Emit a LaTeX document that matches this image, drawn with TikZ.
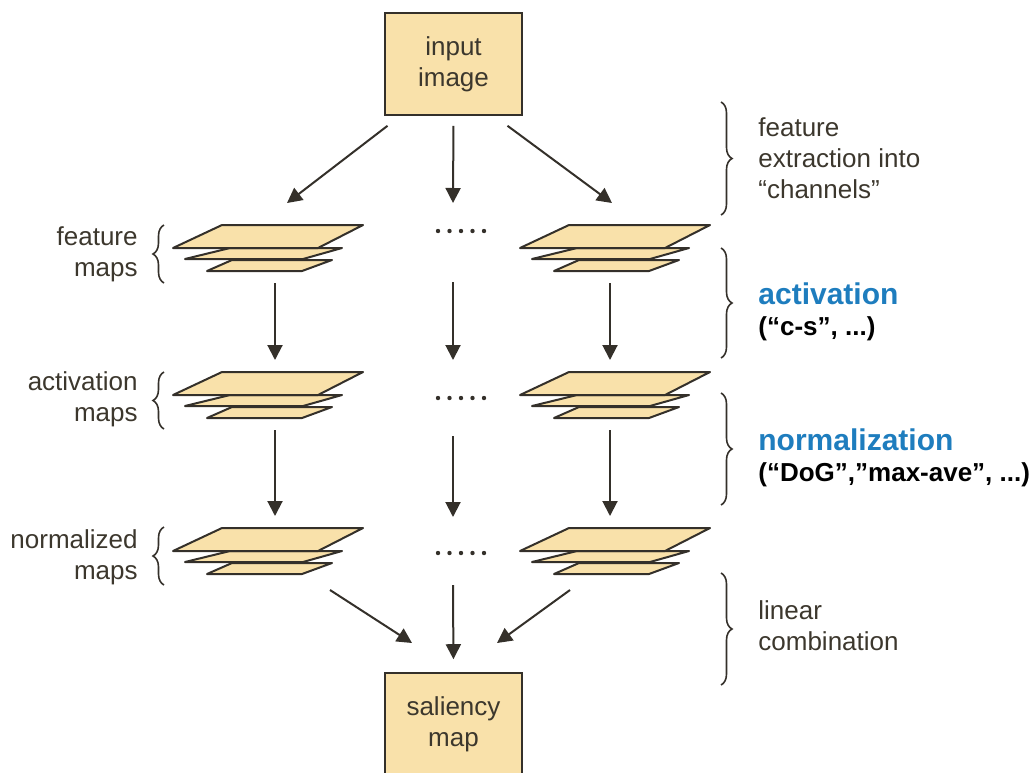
\documentclass[tikz,border=0pt]{standalone}
\usepackage{fontspec}
\setmainfont{Liberation Sans}
\usetikzlibrary{arrows.meta, positioning, decorations.pathreplacing}
\definecolor{tan}{RGB}{249,225,170}
\definecolor{edge}{RGB}{52,48,42}
\definecolor{ink}{RGB}{60,55,45}
\definecolor{headblue}{RGB}{30,125,190}
\tikzstyle{box} = [rectangle, minimum width=68.5pt, minimum height=51pt, align=center, draw=edge, line width=0.8pt, fill=tan, text=ink, font=\fontsize{13}{15.5}\selectfont]
\tikzstyle{arrow} = [line width=1pt, draw=edge, -{Triangle[length=7.5pt,width=7.5pt]}]
\tikzstyle{lbl} = [inner sep=0pt, text=ink, font=\fontsize{13}{15.5}\selectfont]
\tikzstyle{curly} = [decorate, decoration={brace, amplitude=5.5pt}, line width=0.8pt, draw=edge]
\tikzstyle{sheet} = [fill=tan, draw=edge, line width=1pt, line join=round]

\tikzset{mapstack/.pic={
    \filldraw[sheet] (-68,46) -- (27,46) -- (57,35) -- (-43,35) -- cycle;
    \filldraw[sheet] (-90,34) -- (28,34) -- (67,23) -- (-45,23) -- cycle;
    \filldraw[sheet] (-102,23) -- (43,23) -- (88,0) -- (-53,0) -- cycle;
    \coordinate (-top) at (0,-12);
    \coordinate (-bot) at (0,58);
}}

\begin{document}
\begin{tikzpicture}[x=0.5pt, y=-0.5pt]
    \useasboundingbox (0,0) rectangle (1032,772);

    \node (input) [box] at (453.5,64) {input\\image};
    \node (saliency) [box] at (453.5,724) {saliency\\map};

    % map stacks
    \pic (featL) at (275,225) {mapstack};
    \pic (featR) at (622,225) {mapstack};
    \pic (actL) at (275,372) {mapstack};
    \pic (actR) at (622,372) {mapstack};
    \pic (normL) at (275,528) {mapstack};
    \pic (normR) at (622,528) {mapstack};

    \foreach \y in {231,398,553}
        \foreach \i in {0,...,4}
            \fill[edge] (438+11.5*\i,\y) circle (1.1pt);

    % arrow ends in the middle column
    \coordinate (inL) at (287,203);
    \coordinate (inM) at (453,203);
    \coordinate (inR) at (612,203);
    \coordinate (m1) at (453,282);
    \coordinate (m2) at (453,360);
    \coordinate (m3) at (453,436);
    \coordinate (m4) at (453,517);
    \coordinate (m5) at (453,585);
    \coordinate (outL) at (330,590);
    \coordinate (outR) at (570,590);
    \coordinate (sumL) at (412,643);
    \coordinate (sumR) at (497,643);

    \draw [arrow] ([xshift=-33pt,yshift=-5pt]input.south) -- (inL);
    \draw [arrow, shorten <=5pt] (input.south) -- (inM);
    \draw [arrow] ([xshift=27pt,yshift=-5pt]input.south) -- (inR);
    \draw [arrow] (featL-bot) -- (actL-top);
    \draw [arrow] (m1) -- (m2);
    \draw [arrow] ([xshift=-6pt]featR-bot) -- ([xshift=-6pt]actR-top);
    \draw [arrow] (actL-bot) -- (normL-top);
    \draw [arrow] (m3) -- (m4);
    \draw [arrow] ([xshift=-6pt]actR-bot) -- ([xshift=-6pt]normR-top);
    \draw [arrow] (outL) -- (sumL);
    \draw [arrow, shorten >=6.5pt] (m5) -- (saliency.north);
    \draw [arrow] (outR) -- (sumR);

    % left braces and labels
    \draw [curly] (164,283) -- (164,225);
    \draw [curly] (164,429) -- (164,372);
    \draw [curly] (164,585) -- (164,527);
    \node (featLbl) [lbl, align=right, anchor=east] at (138,254) {feature\\maps};
    \node (actLbl) [lbl, align=right, anchor=east] at (138,399) {activation\\maps};
    \node (normLbl) [lbl, align=right, anchor=east] at (138,557) {normalized\\maps};

    % right braces and labels
    \draw [curly] (721,102) -- (721,215);
    \draw [curly] (721,248) -- (721,358);
    \draw [curly] (721,393) -- (721,505);
    \draw [curly] (721,573) -- (721,685);
    \node (extractLbl) [lbl, align=left, anchor=west] at (758,158) {feature\\extraction into\\“channels”};
    \node (actStep) [lbl, align=left, anchor=west] at (758,312) {{\fontsize{15}{15.5}\selectfont\bfseries\color{headblue}activation}\\{\bfseries\color{black}(“c-s”, ...)}};
    \node (normStep) [lbl, align=left, anchor=west] at (758,458) {{\fontsize{15}{15.5}\selectfont\bfseries\color{headblue}normalization}\\{\bfseries\color{black}(“DoG”,”max-ave”, ...)}};
    \node (combLbl) [lbl, align=left, anchor=west] at (758,626) {linear\\combination};
\end{tikzpicture}
\end{document}
